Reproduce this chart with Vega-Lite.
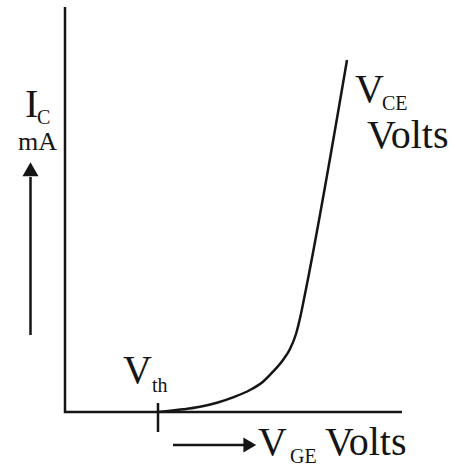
{
  "$schema": "https://vega.github.io/schema/vega-lite/v6.json",
  "width": 459,
  "height": 468,
  "autosize": {"type": "fit", "contains": "padding"},
  "padding": 0,
  "background": "white",
  "config": {"view": {"stroke": null}},
  "datasets": {
    "frame": [
      {"x": 0, "y": 40.5, "k": 0},
      {"x": 0, "y": 0, "k": 1},
      {"x": 33.7, "y": 0, "k": 2}
    ],
    "curve": [
      {"x": 9.3, "y": 0},
      {"x": 11.8, "y": 0.27},
      {"x": 13.5, "y": 0.53},
      {"x": 15.2, "y": 0.93},
      {"x": 16.8, "y": 1.47},
      {"x": 18.5, "y": 2.2},
      {"x": 19.8, "y": 3.03},
      {"x": 20.8, "y": 4.03},
      {"x": 21.8, "y": 5.2},
      {"x": 22.5, "y": 6.3},
      {"x": 23.1, "y": 7.8},
      {"x": 23.55, "y": 9.6},
      {"x": 23.9, "y": 11.3},
      {"x": 28.2, "y": 35.2}
    ],
    "segs": [
      {"seg": "vth", "x": 9.3, "y": 0.9, "k": 0},
      {"seg": "vth", "x": 9.3, "y": -2.0, "k": 1},
      {"seg": "icarrow", "x": -3.45, "y": 7.7, "k": 0},
      {"seg": "icarrow", "x": -3.45, "y": 23.5, "k": 1},
      {"seg": "vgearrow", "x": 10.8, "y": -3.3, "k": 0},
      {"seg": "vgearrow", "x": 18.1, "y": -3.3, "k": 1}
    ],
    "heads": [
      {"dir": "up", "x": -3.45, "y": 24.28},
      {"dir": "right", "x": 18.48, "y": -3.3}
    ],
    "bigtext": [
      {"t": "V", "x": 5.8, "y": 2.9},
      {"t": "I", "x": -4.0, "y": 29.5},
      {"t": "V", "x": 19.3, "y": -4.3},
      {"t": "Volts", "x": 26.0, "y": -4.3},
      {"t": "V", "x": 29.0, "y": 31.0},
      {"t": "Volts", "x": 30.2, "y": 26.4}
    ],
    "subtext": [
      {"t": "th", "x": 8.7, "y": 2.0},
      {"t": "C", "x": -2.8, "y": 28.8},
      {"t": "GE", "x": 22.5, "y": -5.1},
      {"t": "CE", "x": 31.7, "y": 30.2}
    ],
    "unit": [
      {"t": "mA", "x": -4.7, "y": 26.2}
    ]
  },
  "encoding": {
    "x": {"field": "x", "type": "quantitative", "scale": {"domain": [-6.5, 39.4]}, "axis": null},
    "y": {"field": "y", "type": "quantitative", "scale": {"domain": [-5.6, 41.2]}, "axis": null}
  },
  "layer": [
    {
      "data": {"name": "frame"},
      "mark": {"type": "line", "color": "#151515", "strokeWidth": 2.5},
      "encoding": {"order": {"field": "k", "type": "quantitative"}}
    },
    {
      "data": {"name": "curve"},
      "mark": {"type": "line", "color": "#151515", "strokeWidth": 2.5, "interpolate": "monotone"},
      "encoding": {}
    },
    {
      "data": {"name": "segs"},
      "mark": {"type": "line", "color": "#151515", "strokeWidth": 2.5},
      "encoding": {
        "detail": {"field": "seg", "type": "nominal"},
        "order": {"field": "k", "type": "quantitative"}
      }
    },
    {
      "data": {"name": "heads"},
      "transform": [{"filter": "datum.dir === 'up'"}],
      "mark": {"type": "point", "shape": "triangle-up", "filled": true, "size": 256, "color": "#151515", "opacity": 1}
    },
    {
      "data": {"name": "heads"},
      "transform": [{"filter": "datum.dir === 'right'"}],
      "mark": {"type": "point", "shape": "triangle-right", "filled": true, "size": 220, "color": "#151515", "opacity": 1}
    },
    {
      "data": {"name": "bigtext"},
      "mark": {"type": "text", "font": "Liberation Serif", "fontSize": 40, "align": "left", "baseline": "alphabetic", "color": "#151515"},
      "encoding": {"text": {"field": "t"}}
    },
    {
      "data": {"name": "subtext"},
      "mark": {"type": "text", "font": "Liberation Serif", "fontSize": 20, "align": "left", "baseline": "alphabetic", "color": "#151515"},
      "encoding": {"text": {"field": "t"}}
    },
    {
      "data": {"name": "unit"},
      "mark": {"type": "text", "font": "Liberation Serif", "fontSize": 26, "align": "left", "baseline": "alphabetic", "color": "#151515"},
      "encoding": {"text": {"field": "t"}}
    }
  ]
}
